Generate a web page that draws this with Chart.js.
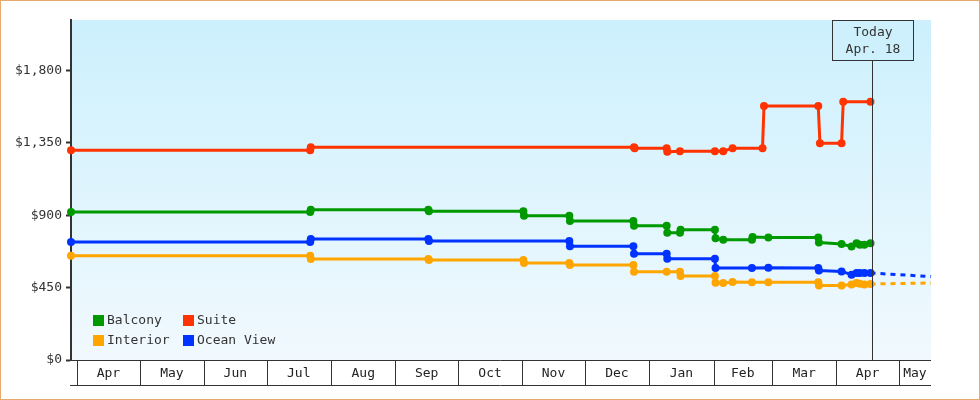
<!DOCTYPE html>
<html>
<head>
<meta charset="utf-8">
<script src="https://cdn.jsdelivr.net/npm/chart.js@4"></script>
<style>
  body { margin: 0; background: #fff; }
  #wrap { width: 980px; height: 400px; }
</style>
</head>
<body>
<div id="wrap"><canvas id="priceChart" width="980" height="400"></canvas></div>
<script>
// x values are days counted from Apr 1 (last year)
const monthNames = ['Apr', 'May', 'Jun', 'Jul', 'Aug', 'Sep', 'Oct', 'Nov', 'Dec', 'Jan', 'Feb', 'Mar', 'Apr', 'May'];
const monthStarts = [0, 30, 61, 91, 122, 153, 183, 214, 244, 275, 306, 334, 365, 395];
const priceTicks = [0, 450, 900, 1350, 1800];
const todayDay = 382;
const todayLabel = ['Today', 'Apr. 18'];

const balconyDays = [-3, 112, 112.3, 168.8, 169.1, 214.5, 214.8, 236.6, 236.9, 267.4, 267.7, 283.4, 283.7, 289.8, 290.1, 306.6, 306.9, 310.6, 324.4, 324.7, 332.3, 356.3, 356.6, 367.5, 372.3, 374.7, 376.3, 378.5, 381.4];
const balconyPrices = [920, 920, 934, 934, 926, 926, 897, 897, 864, 864, 835, 835, 791, 791, 810, 810, 758, 748, 748, 765, 762, 762, 731, 721, 706, 727, 717, 717, 727];

const suiteDays = [-3, 112, 112.3, 267.7, 268, 283.4, 283.7, 289.8, 306.6, 310.6, 315.1, 329.5, 330.2, 356.3, 357.1, 367.5, 368.3, 381.4];
const suitePrices = [1305, 1305, 1323, 1323, 1317, 1317, 1296, 1299, 1299, 1299, 1317, 1317, 1580, 1580, 1348, 1348, 1606, 1606];

const interiorDays = [-3, 112, 112.3, 168.8, 169.1, 214.5, 214.8, 236.6, 236.9, 267.4, 267.7, 283.4, 289.8, 290.1, 306.6, 306.9, 310.6, 315.1, 324.4, 332.3, 356.3, 356.6, 367.5, 372.3, 374.7, 376.3, 378.5, 381.4];
const interiorPrices = [649, 649, 628, 628, 622, 622, 603, 603, 591, 591, 549, 549, 549, 523, 523, 481, 479, 485, 484, 484, 484, 464, 464, 469, 479, 475, 469, 473];

const oceanDays = [-3, 112, 112.3, 168.8, 169.1, 236.6, 236.9, 267.4, 267.7, 283.4, 283.7, 306.6, 306.9, 324.4, 332.3, 356.3, 356.6, 367.5, 372.3, 374.7, 376.3, 378.5, 381.4];
const oceanPrices = [734, 734, 752, 752, 740, 740, 708, 708, 661, 661, 630, 630, 572, 572, 574, 572, 556, 551, 531, 541, 541, 541, 541];

// dashed projection after today
const oceanForecastDays = [381.4, 410.5];
const oceanForecastPrices = [541, 519];
const interiorForecastDays = [381.4, 410.5];
const interiorForecastPrices = [473, 479];

const FONT = "'DejaVu Sans Mono', monospace";

function pts(days, prices) {
  return days.map((d, i) => ({ x: d, y: prices[i] }));
}

function series(label, days, prices, color) {
  return {
    label: label,
    data: pts(days, prices),
    borderColor: color,
    backgroundColor: color,
    borderWidth: 3,
    borderJoinStyle: 'round',
    pointRadius: 4,
    pointHoverRadius: 4,
    pointBorderWidth: 0,
    pointBackgroundColor: color,
    tension: 0,
    clip: false
  };
}

function forecast(days, prices, color) {
  return {
    label: '',
    data: pts(days, prices),
    borderColor: color,
    borderWidth: 3,
    borderDash: [5, 5],
    pointRadius: 0,
    tension: 0,
    clip: false
  };
}

const legendItems = ['Balcony', 'Suite', 'Interior', 'Ocean View'];

// frame + chart background
const backdrop = {
  id: 'backdrop',
  beforeDraw(chart) {
    const ctx = chart.ctx, a = chart.chartArea;
    ctx.save();
    ctx.fillStyle = '#fff';
    ctx.fillRect(0, 0, chart.width, chart.height);
    ctx.strokeStyle = '#e8aa6c';
    ctx.lineWidth = 1;
    ctx.strokeRect(0.5, 0.5, chart.width - 1, chart.height - 1);
    const g = ctx.createLinearGradient(0, a.top, 0, a.bottom);
    g.addColorStop(0, '#ccf0fd');
    g.addColorStop(1, '#f1f9fe');
    ctx.fillStyle = g;
    ctx.fillRect(a.left, a.top, a.right - a.left, a.bottom - a.top);
    ctx.restore();
  }
};

// month band under the plot, legend, today marker
const extras = {
  id: 'extras',
  afterDraw(chart) {
    const ctx = chart.ctx, a = chart.chartArea, x = chart.scales.x;
    ctx.save();
    ctx.strokeStyle = '#333';
    ctx.lineWidth = 1;
    const top = a.bottom + 0.5, bot = a.bottom + 25.5;
    ctx.beginPath();
    ctx.moveTo(a.left - 1, top); ctx.lineTo(a.right, top);
    ctx.moveTo(a.left - 1, bot); ctx.lineTo(a.right, bot);
    monthStarts.forEach(m => {
      const px = Math.round(x.getPixelForValue(m)) + 0.5;
      ctx.moveTo(px, top); ctx.lineTo(px, bot);
    });
    ctx.stroke();
    ctx.font = '13px ' + FONT;
    ctx.fillStyle = '#222';
    ctx.textAlign = 'center';
    ctx.textBaseline = 'middle';
    monthNames.forEach((n, i) => {
      const l = x.getPixelForValue(monthStarts[i]);
      const r = i + 1 < monthStarts.length ? x.getPixelForValue(monthStarts[i + 1]) : a.right;
      ctx.fillText(n, (l + r) / 2, a.bottom + 13.5);
    });

    // legend
    ctx.textAlign = 'left';
    legendItems.forEach((name, i) => {
      const ds = chart.data.datasets.find(d => d.label === name);
      const col = i % 2, row = Math.floor(i / 2);
      const lx = a.left + 22 + col * 90;
      const ly = a.bottom - 45 + row * 20;
      ctx.fillStyle = ds.borderColor;
      ctx.fillRect(lx, ly, 11, 11);
      ctx.fillStyle = '#333';
      ctx.fillText(name, lx + 14, ly + 6);
    });

    // today line + box
    const tx = Math.round(x.getPixelForValue(todayDay)) + 0.5;
    ctx.beginPath();
    ctx.moveTo(tx, a.top + 40);
    ctx.lineTo(tx, a.bottom);
    ctx.stroke();
    ctx.fillStyle = '#cdf0fc';
    ctx.fillRect(tx - 40, a.top + 0.5, 81, 40);
    ctx.strokeRect(tx - 40, a.top + 0.5, 81, 40);
    ctx.fillStyle = '#333';
    ctx.textAlign = 'center';
    ctx.fillText(todayLabel[0], tx + 0.5, a.top + 13);
    ctx.fillText(todayLabel[1], tx + 0.5, a.top + 30);
    ctx.restore();
  }
};

const chartCtx = document.getElementById('priceChart').getContext('2d');

var priceChart = new Chart(chartCtx, {
  type: 'line',
  data: {
    datasets: [
      series('Balcony', balconyDays, balconyPrices, '#009900'),
      series('Suite', suiteDays, suitePrices, '#ff3300'),
      forecast(interiorForecastDays, interiorForecastPrices, '#ffa500'),
      series('Interior', interiorDays, interiorPrices, '#ffa500'),
      forecast(oceanForecastDays, oceanForecastPrices, '#0033ff'),
      series('Ocean View', oceanDays, oceanPrices, '#0033ff')
    ]
  },
  options: {
    responsive: false,
    animation: false,
    devicePixelRatio: 1,
    layout: { padding: { top: 20, right: 49, bottom: 40, left: 0 } },
    plugins: {
      legend: { display: false },
      tooltip: { enabled: false }
    },
    scales: {
      x: {
        type: 'linear',
        min: -3,
        max: 410.5,
        display: false
      },
      y: {
        min: 0,
        max: 2115,
        afterFit(scale) { scale.width = 71; },
        afterBuildTicks(scale) {
          scale.ticks = priceTicks.map(v => ({ value: v }));
        },
        ticks: {
          padding: 4,
          color: '#333',
          font: { family: FONT, size: 13 },
          callback: v => '$' + v.toLocaleString('en-US')
        },
        grid: {
          drawOnChartArea: false,
          tickLength: 5,
          tickWidth: 2,
          color: '#333'
        },
        border: { color: '#333', width: 2 }
      }
    }
  },
  plugins: [backdrop, extras]
});
</script>
</body>
</html>
